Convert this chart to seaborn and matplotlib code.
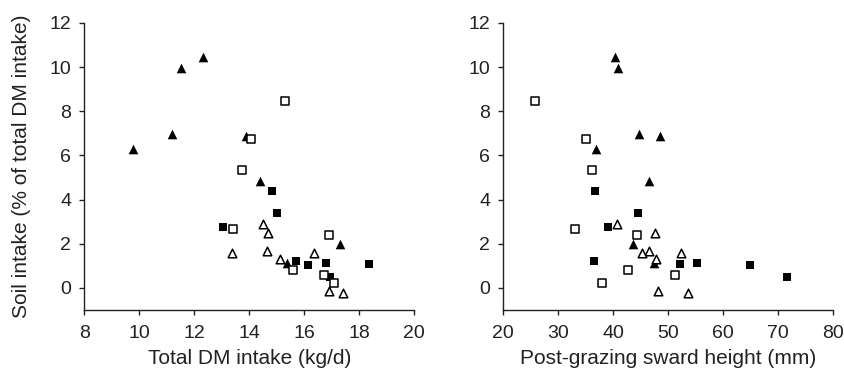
import pandas as pd
import matplotlib
matplotlib.use('Agg')
import matplotlib.pyplot as plt
import seaborn as sns

# soil intake (% of total DM intake) per group, shared by both panels
tri_fill_soil = [6.3, 6.95, 9.95, 10.47, 6.86, 4.86, 1.14, 1.99]
tri_fill_dmi = [9.77, 11.18, 11.5, 12.3, 13.9, 14.38, 15.39, 17.29]
tri_fill_height = [36.8, 44.7, 40.9, 40.3, 48.5, 46.55, 47.35, 43.5]

sq_fill_soil = [2.74, 4.38, 3.41, 1.2, 1.05, 1.15, 0.5, 1.1]
sq_fill_dmi = [13.05, 14.83, 15.02, 15.72, 16.14, 16.81, 16.93, 18.38]
sq_fill_height = [39.1, 36.7, 44.5, 36.5, 64.9, 55.2, 71.5, 52.2]

sq_open_soil = [2.67, 5.32, 6.76, 8.47, 0.82, 2.41, 0.59, 0.24]
sq_open_dmi = [13.41, 13.75, 14.08, 15.3, 15.6, 16.89, 16.72, 17.09]
sq_open_height = [33.1, 36.2, 35.0, 25.7, 42.7, 44.3, 51.2, 38.0]

tri_open_soil = [1.6, 2.9, 2.47, 1.65, 1.3, 1.57, -0.12, -0.24]
tri_open_dmi = [13.36, 14.5, 14.68, 14.65, 15.13, 16.35, 16.89, 17.41]
tri_open_height = [52.4, 40.6, 47.55, 46.5, 47.7, 45.15, 48.2, 53.5]

groups = {
    'filled triangle': (tri_fill_soil, tri_fill_dmi, tri_fill_height, '^', 'black', 48),
    'filled square': (sq_fill_soil, sq_fill_dmi, sq_fill_height, 's', 'black', 32),
    'open square': (sq_open_soil, sq_open_dmi, sq_open_height, 's', 'white', 26),
    'open triangle': (tri_open_soil, tri_open_dmi, tri_open_height, '^', 'white', 38),
}

sns.set_style('white')
plt.rcParams['font.family'] = ['Liberation Sans', 'DejaVu Sans']
ink = '#222222'
plt.rcParams.update({
    'axes.edgecolor': ink, 'xtick.color': ink, 'ytick.color': ink,
    'text.color': ink, 'axes.labelcolor': ink,
})

fig = plt.figure(figsize=(8.44, 3.74), dpi=100)
ax1 = fig.add_axes([0.1, 0.171, 0.3905, 0.768])
ax2 = fig.add_axes([0.5963, 0.171, 0.391, 0.768])

for name, (soil, dmi, height, mk, fc, s) in groups.items():
    df = pd.DataFrame({'soil': soil, 'dmi': dmi, 'height': height})
    lw = 0 if fc == 'black' else 1.1
    sns.scatterplot(data=df, x='dmi', y='soil', marker=mk, s=s, color=fc,
                    edgecolor='black', linewidth=lw, ax=ax1, zorder=3)
    sns.scatterplot(data=df, x='height', y='soil', marker=mk, s=s, color=fc,
                    edgecolor='black', linewidth=lw, ax=ax2, zorder=3)

ax1.set_xlim(8, 20)
ax1.set_xticks(range(8, 21, 2))
ax2.set_xlim(20, 80)
ax2.set_xticks(range(20, 81, 10))
for ax in (ax1, ax2):
    ax.set_ylim(-1, 12)
    ax.set_yticks(range(0, 13, 2))
    sns.despine(ax=ax)
    ax.spines['left'].set_linewidth(1.0)
    ax.spines['bottom'].set_linewidth(1.0)
    ax.tick_params(axis='x', pad=7.5)
    ax.tick_params(direction='out', length=3.5, width=1.0, labelsize=14,
                   left=True, bottom=True)
    ax.tick_params(axis='y', pad=6)

ax1.set_xlabel('Total DM intake (kg/d)', fontsize=15, labelpad=5)
ax1.set_ylabel('Soil intake (% of total DM intake)', fontsize=15, labelpad=13)
ax2.set_xlabel('Post-grazing sward height (mm)', fontsize=15, labelpad=5)
ax2.set_ylabel('')

plt.savefig('out.png', dpi=100)
